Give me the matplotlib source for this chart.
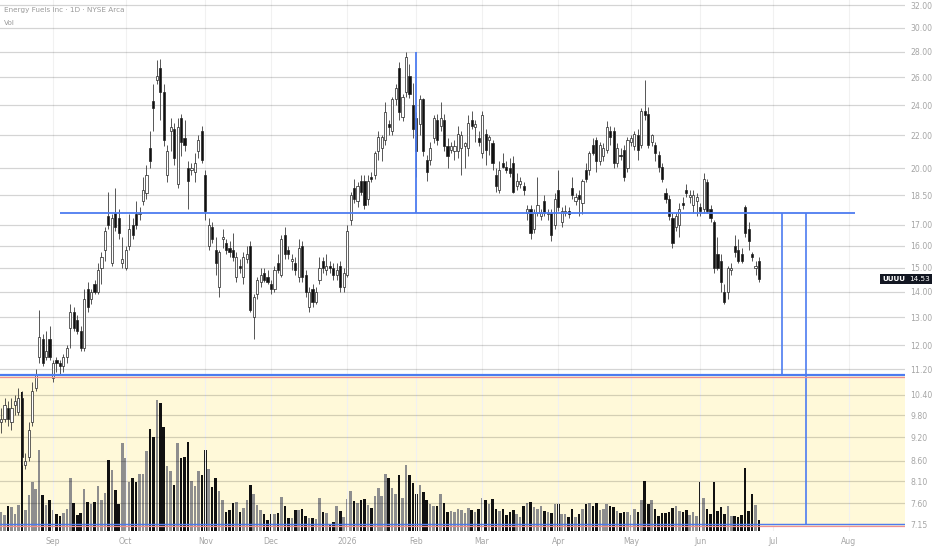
import matplotlib
matplotlib.use("Agg")
import matplotlib.pyplot as plt
from matplotlib.ticker import NullLocator
import pandas as pd

# trading calendar
first_day = "2025-08-11"
last_day = "2026-08-31"
holidays = ["2025-09-01", "2025-11-27", "2025-12-25", "2026-01-01", "2026-01-19",
            "2026-02-16", "2026-04-03", "2026-05-25", "2026-06-19", "2026-07-03"]

# daily candles
opens = [9.6, 9.7, 10.0, 9.6, 10.1, 9.9, 10.3, 8.5, 8.7, 9.6,
         10.6, 11.6, 12.2, 11.6, 12.2, 10.9, 11.5, 11.4, 11.3, 11.6,
         12.6, 13.2, 12.9, 12.5, 11.9, 14.1, 13.7, 14.3, 14.0, 15.0,
         15.8, 17.4, 15.2, 17.6, 17.3, 15.2, 15.0, 16.0, 17.0, 17.5,
         17.5, 18.2, 18.6, 21.2, 24.3, 25.8, 26.7, 24.9, 19.6, 22.3,
         22.4, 19.1, 23.1, 21.8, 20.0, 19.9, 19.8, 21.0, 22.3, 19.6,
         16.0, 16.9, 15.8, 14.2, 16.3, 16.1, 15.9, 15.8, 14.6, 15.1,
         14.6, 15.4, 16.0, 13.0, 13.9, 14.4, 14.8, 14.6, 14.3, 14.1,
         15.2, 14.7, 16.5, 15.8, 15.3, 15.2, 14.6, 16.0, 14.7, 13.4,
         14.1, 13.6, 14.5, 15.3, 14.9, 15.1, 15.0, 14.7, 15.1, 14.2,
         14.7, 17.2, 18.9, 18.2, 19.3, 19.3, 18.3, 19.5, 19.6, 21.0,
         21.2, 21.7, 22.7, 22.3, 24.4, 26.7, 23.2, 24.9, 26.1, 24.0,
         23.1, 22.7, 24.4, 20.5, 20.5, 21.8, 23.0, 22.6, 23.0, 21.3,
         21.1, 21.0, 21.0, 21.2, 21.3, 21.2, 23.0, 22.5, 21.8, 20.9,
         22.1, 21.7, 21.5, 19.6, 18.8, 20.3, 20.1, 20.0, 20.3, 19.0,
         19.1, 19.0, 17.6, 17.8, 16.8, 17.6, 17.4, 18.2, 17.5, 17.6,
         17.0, 18.8, 17.1, 17.6, 17.7, 18.9, 18.2, 18.5, 18.1, 19.9,
         19.9, 21.4, 21.7, 20.4, 20.7, 21.1, 22.3, 22.3, 20.3, 20.8,
         21.1, 20.0, 21.6, 21.3, 22.0, 21.4, 23.6, 23.4, 21.6, 21.4,
         20.8, 20.1, 18.6, 18.3, 17.3, 16.9, 17.0, 18.1, 18.8, 18.4,
         18.0, 18.2, 17.9, 17.8, 19.2, 17.8, 17.1, 15.6, 15.3, 14.0,
         14.0, 14.9, 16.0, 15.8, 15.6, 17.9, 16.8, 15.6, 15.0, 15.3]
highs = [10.0, 10.3, 10.2, 10.3, 10.4, 10.6, 10.5, 8.8, 9.6, 10.8,
         11.2, 13.3, 12.4, 12.5, 12.7, 11.5, 11.6, 11.5, 11.7, 12.0,
         13.5, 13.4, 13.1, 12.7, 14.1, 14.4, 14.1, 14.5, 15.2, 15.7,
         16.9, 18.7, 17.5, 18.9, 17.8, 16.4, 16.0, 17.5, 17.3, 18.2,
         17.9, 19.5, 20.2, 22.3, 25.5, 27.3, 27.4, 25.5, 21.4, 23.1,
         22.8, 23.1, 23.4, 23.0, 20.4, 20.3, 20.9, 22.0, 22.6, 19.9,
         17.3, 17.1, 16.4, 15.8, 16.8, 16.3, 16.2, 16.6, 15.7, 15.4,
         15.7, 16.0, 16.2, 13.9, 14.6, 15.0, 15.0, 14.9, 14.5, 15.1,
         15.6, 16.5, 16.9, 16.0, 15.6, 15.5, 16.3, 16.2, 14.9, 14.2,
         14.3, 14.2, 15.5, 15.5, 15.6, 15.3, 15.2, 15.2, 15.3, 15.0,
         17.0, 18.7, 19.4, 19.2, 19.6, 19.6, 19.6, 19.8, 21.0, 22.3,
         22.0, 24.2, 23.0, 24.6, 25.5, 27.2, 24.8, 28.0, 27.0, 25.6,
         23.5, 24.7, 24.5, 20.8, 21.6, 23.3, 23.4, 24.2, 23.4, 21.8,
         21.6, 21.7, 22.6, 22.3, 21.6, 23.3, 23.6, 23.0, 22.3, 23.6,
         22.4, 22.0, 21.7, 20.0, 20.4, 20.9, 20.4, 20.6, 20.7, 19.7,
         19.5, 19.2, 18.0, 18.0, 17.8, 19.5, 17.8, 18.5, 17.8, 17.8,
         18.6, 19.9, 17.9, 18.0, 17.9, 19.5, 18.6, 18.8, 19.4, 20.3,
         21.0, 21.8, 21.9, 21.6, 21.5, 22.9, 22.6, 22.5, 21.5, 21.2,
         21.4, 21.9, 22.0, 22.3, 22.4, 23.8, 25.8, 23.9, 22.1, 21.6,
         21.0, 20.3, 18.9, 18.5, 17.6, 17.6, 18.1, 18.4, 19.1, 18.8,
         18.8, 18.6, 18.1, 19.7, 19.4, 18.0, 17.2, 16.4, 15.6, 14.3,
         15.1, 15.2, 16.5, 16.3, 15.9, 18.0, 17.1, 15.7, 15.3, 15.5]
lows = [9.3, 9.6, 9.5, 9.4, 9.8, 9.8, 8.5, 8.4, 8.6, 9.5,
        10.5, 11.4, 11.3, 11.5, 11.5, 10.8, 11.1, 11.0, 11.1, 11.4,
        11.9, 12.5, 12.4, 11.8, 11.8, 13.2, 13.5, 13.9, 13.9, 14.3,
        15.3, 16.8, 15.1, 16.7, 16.3, 15.0, 14.9, 15.8, 16.3, 16.8,
        17.2, 18.0, 18.3, 20.0, 22.3, 25.5, 23.0, 21.3, 19.2, 21.0,
        20.2, 18.9, 20.7, 21.0, 17.8, 19.6, 19.2, 20.6, 20.3, 17.2,
        15.8, 16.1, 14.7, 13.8, 15.9, 15.6, 15.5, 15.3, 14.4, 14.8,
        14.3, 15.2, 13.2, 12.2, 13.7, 14.2, 14.4, 14.3, 13.9, 14.0,
        14.8, 14.6, 15.4, 15.4, 14.9, 14.7, 14.4, 14.4, 13.8, 13.2,
        13.4, 13.5, 14.3, 14.8, 14.7, 14.8, 14.5, 14.5, 14.0, 14.0,
        14.6, 17.0, 18.1, 17.9, 18.5, 17.8, 18.0, 19.2, 19.4, 20.5,
        20.4, 21.4, 22.0, 22.0, 24.0, 23.0, 22.9, 24.6, 24.5, 21.8,
        19.5, 22.0, 20.7, 19.3, 20.2, 21.5, 21.4, 22.3, 21.0, 20.0,
        20.9, 20.5, 20.6, 19.6, 20.0, 20.7, 22.4, 21.6, 21.3, 20.6,
        20.2, 20.8, 19.9, 18.7, 18.6, 20.0, 19.7, 19.5, 18.6, 18.8,
        18.9, 18.5, 17.2, 16.3, 16.6, 17.4, 17.2, 17.4, 17.2, 16.2,
        16.8, 17.7, 16.9, 17.4, 17.3, 18.3, 18.0, 17.4, 17.5, 19.2,
        19.6, 20.8, 19.8, 20.2, 20.4, 20.9, 21.4, 20.0, 20.1, 20.5,
        19.3, 19.8, 21.3, 21.1, 20.5, 21.2, 23.0, 21.2, 21.3, 20.4,
        19.8, 19.2, 18.1, 17.2, 15.9, 16.7, 16.4, 17.8, 18.4, 18.1,
        17.6, 17.4, 17.4, 17.6, 17.6, 17.1, 14.8, 14.9, 14.0, 13.5,
        13.7, 14.7, 15.5, 15.2, 15.2, 16.4, 15.8, 15.3, 14.7, 14.4]
closes = [9.7, 10.1, 9.7, 10.0, 10.2, 10.3, 8.7, 8.6, 9.4, 10.5,
          11.0, 12.3, 11.4, 11.8, 11.6, 11.4, 11.4, 11.3, 11.6, 11.9,
          13.2, 12.6, 12.5, 11.9, 13.7, 13.4, 14.0, 14.0, 14.9, 15.5,
          16.7, 17.0, 17.3, 16.9, 16.6, 15.4, 15.8, 16.8, 16.5, 17.0,
          17.6, 18.8, 19.6, 20.4, 23.8, 26.1, 24.9, 21.7, 21.0, 22.5,
          20.6, 22.5, 21.6, 21.4, 19.3, 20.0, 20.3, 21.7, 20.5, 17.7,
          17.0, 16.3, 15.2, 15.7, 16.4, 15.8, 15.7, 15.5, 15.5, 15.0,
          15.5, 15.6, 13.3, 13.8, 14.5, 14.7, 14.5, 14.4, 14.1, 14.9,
          14.9, 16.3, 15.6, 15.6, 15.4, 14.9, 15.9, 14.6, 14.0, 14.0,
          13.6, 14.0, 15.0, 15.0, 15.1, 15.0, 14.7, 14.9, 14.2, 14.8,
          16.7, 18.5, 18.3, 19.0, 18.7, 18.0, 19.3, 19.4, 20.9, 21.9,
          21.9, 23.5, 22.5, 24.4, 25.2, 23.5, 24.6, 27.6, 24.8, 22.4,
          21.0, 24.4, 21.0, 19.8, 21.2, 23.1, 21.7, 23.1, 21.3, 20.7,
          21.3, 21.3, 22.1, 22.0, 21.5, 22.8, 22.6, 22.7, 21.6, 23.3,
          21.1, 21.9, 20.3, 19.0, 19.9, 20.1, 19.9, 19.7, 18.7, 19.3,
          19.3, 18.8, 17.8, 16.6, 17.6, 18.0, 17.6, 17.6, 17.6, 16.5,
          18.3, 17.9, 17.7, 17.7, 17.5, 18.5, 18.4, 18.3, 19.3, 19.4,
          20.9, 20.9, 20.4, 21.4, 21.2, 22.5, 21.9, 20.3, 21.2, 20.7,
          19.5, 21.7, 21.8, 22.1, 21.1, 23.6, 23.3, 21.4, 22.0, 20.9,
          20.1, 19.4, 18.3, 17.4, 16.1, 17.4, 17.8, 18.0, 18.6, 18.5,
          18.5, 18.4, 17.7, 19.4, 17.7, 17.3, 15.0, 15.0, 14.4, 13.6,
          15.0, 15.0, 15.7, 15.3, 15.3, 16.6, 16.2, 15.5, 15.1, 14.53]
# daily volume, millions of shares
volumes = [19, 16, 25, 24, 17, 26, 139, 21, 36, 49,
           42, 81, 36, 26, 31, 21, 17, 15, 18, 22,
           53, 28, 16, 18, 42, 29, 27, 29, 45, 31,
           38, 71, 61, 41, 27, 88, 73, 49, 53, 49,
           57, 57, 80, 102, 94, 131, 128, 104, 65, 60,
           46, 88, 73, 74, 89, 50, 45, 60, 56, 81,
           62, 44, 53, 40, 31, 19, 21, 28, 29, 19,
           23, 31, 46, 37, 26, 21, 17, 11, 17, 17,
           18, 34, 25, 13, 13, 21, 21, 22, 15, 13,
           13, 12, 33, 19, 18, 7, 9, 25, 20, 14,
           32, 40, 30, 28, 31, 32, 26, 23, 35, 43,
           35, 57, 53, 43, 37, 56, 33, 66, 56, 48,
           37, 46, 39, 31, 27, 25, 25, 37, 28, 19,
           20, 19, 22, 21, 18, 23, 21, 19, 22, 33,
           31, 27, 32, 22, 20, 22, 16, 19, 21, 17,
           14, 25, 28, 29, 24, 22, 25, 20, 19, 18,
           27, 27, 17, 17, 14, 22, 14, 17, 22, 27,
           28, 25, 28, 21, 22, 27, 25, 24, 20, 18,
           19, 19, 16, 22, 19, 31, 50, 27, 31, 22,
           15, 18, 18, 19, 23, 25, 20, 19, 21, 16,
           19, 15, 49, 33, 22, 17, 49, 20, 24, 17,
           25, 15, 15, 14, 16, 63, 20, 37, 26, 11]

price_ticks = [32, 30, 28, 26, 24, 22, 20, 18.5, 17, 16, 15, 14, 13, 12,
               11.2, 10.4, 9.8, 9.2, 8.6, 8.1, 7.6, 7.15]
month_names = ["Jan", "Feb", "Mar", "Apr", "May", "Jun",
               "Jul", "Aug", "Sep", "Oct", "Nov", "Dec"]

title = "Energy Fuels Inc · 1D · NYSE Arca"
ticker = "UUUU"
last_price = 14.53

# drawn levels (price) and anchors (bar index)
support_level = 17.6
peak_level = 28.0
pane_top = 11.02
pane_bottom = 7.16
support_start, support_end = 17.0, 246.8
peak_bar = 120
target_bars = [225.7, 232.7]

blue = "#4d7cf0"
red = "#f09090"
txt = "#a5a5a5"
narrow = ["Liberation Sans Narrow", "DejaVu Sans"]

days = pd.bdate_range(first_day, last_day, freq="C", holidays=holidays)
n = len(closes)
idx = list(range(n))

# first trading day of each month -> tick
tick_pos, tick_lab = [], []
for k in range(1, len(days)):
    if days[k].month != days[k - 1].month:
        tick_pos.append(k)
        m = days[k].month
        tick_lab.append(str(days[k].year) if m == 1 else month_names[m - 1])

fig = plt.figure(figsize=(9.32, 5.5), dpi=100)
W, H = 932.0, 550.0
x_left, x_right = -0.32, 261.2

# volume pane
vax = fig.add_axes([0, (H - 531) / H, 905 / W, 155 / H], zorder=0)
vax.set_xlim(x_left, x_right)
vax.set_ylim(0, 155)
vax.axhspan(5, 155, color="#fff9d9", lw=0, zorder=0)
up = [c >= o for o, c in zip(opens, closes)]
vax.bar(idx, volumes, width=0.74, color=["#8e8e8e" if u else "#111111" for u in up],
        lw=0, zorder=2)
vax.axis("off")

# price pane
ax = fig.add_axes([0, (H - 531) / H, 905 / W, 531 / H], zorder=1)
ax.set_facecolor("none")
ax.set_yscale("log")
ax.set_xlim(x_left, x_right)
ax.set_ylim(7.016, 32.51)
ax.set_yticks(price_ticks)
ax.set_yticklabels([f"{t:.2f}" for t in price_ticks], family=narrow)
ax.yaxis.set_minor_locator(NullLocator())
ax.yaxis.tick_right()
ax.set_xticks(tick_pos)
ax.set_xticklabels(tick_lab, family=narrow)
ax.tick_params(axis="y", length=0, pad=4, labelsize=5.6, labelcolor=txt)
ax.tick_params(axis="x", length=0, pad=4.5, labelsize=5.6, labelcolor=txt)
ax.grid(axis="y", color="black", alpha=0.17, lw=0.9, zorder=0)
ax.grid(axis="x", color="#f1f1f1", alpha=1.0, lw=0.8, zorder=0)
for s in ax.spines.values():
    s.set_visible(False)

# candles
ax.vlines(idx, lows, highs, color="#3a3a3a", lw=0.6, zorder=3)
bottoms = [min(o, c) for o, c in zip(opens, closes)]
heights = [max(abs(c - o), 0.04) for o, c in zip(opens, closes)]
ax.bar(idx, heights, bottom=bottoms, width=0.62,
       color=["white" if u else "#111111" for u in up],
       edgecolor="#222222", lw=0.5, zorder=4)

# drawings
ax.hlines(support_level, support_start, support_end, color=blue, lw=1.3, zorder=5)
ax.vlines(peak_bar, support_level, peak_level, color=blue, lw=1.3, zorder=5)
ax.vlines(target_bars[0], pane_top, support_level, color=blue, lw=1.2, zorder=5)
ax.vlines(target_bars[1], pane_bottom, support_level, color=blue, lw=1.2, zorder=5)
ax.axhline(pane_top, color=blue, lw=1.6, zorder=5)
ax.axhline(pane_top * 0.994, color=red, lw=0.9, zorder=5)
ax.axhline(pane_bottom, color=blue, lw=1.0, zorder=5)
ax.axhline(pane_bottom * 0.994, color=red, lw=0.9, zorder=5)

# header and last price tag
fig.text(4 / W, 1 - 10 / H, title, color="#9a9a9a", fontsize=5.2, va="center", family=narrow)
fig.text(4 / W, 1 - 23 / H, "Vol", color="#9a9a9a", fontsize=5.2, va="center", family=narrow)
y_tag = ax.transData.transform((0, last_price))[1] / H
fig.text(905 / W, y_tag, ticker, color="white", fontsize=5.2, va="center", ha="right",
         family=narrow, fontweight="bold",
         bbox=dict(boxstyle="square,pad=0.25", fc="#131722", ec="none"))
fig.text(909 / W, y_tag, f"{last_price:.2f}", color="white", fontsize=5.2, va="center",
         ha="left", family=narrow,
         bbox=dict(boxstyle="square,pad=0.25", fc="#131722", ec="none"))

fig.savefig("out.png", dpi=100)
